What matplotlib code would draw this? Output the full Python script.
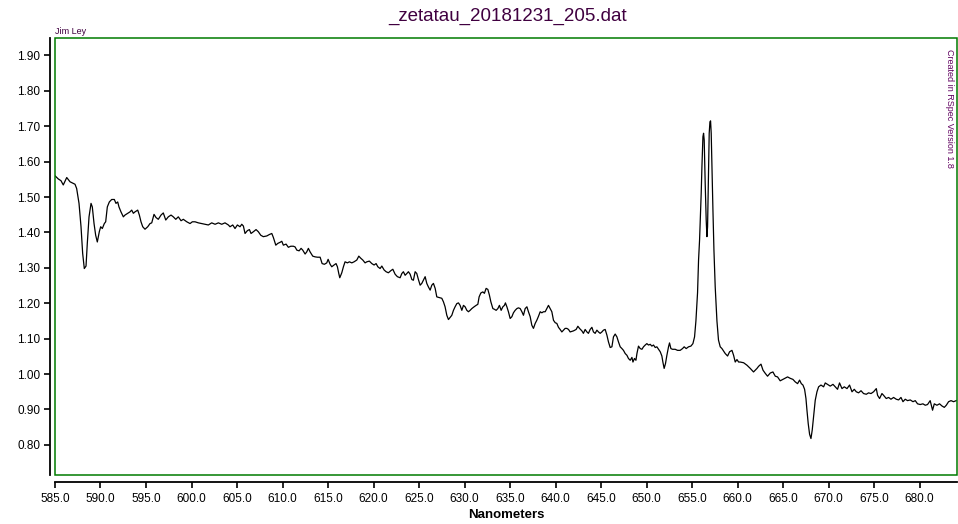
import numpy as np
import matplotlib
matplotlib.use("Agg")
import matplotlib.pyplot as plt
from matplotlib.patches import Rectangle
from matplotlib.ticker import FormatStrFormatter

plt.rcParams["font.family"] = ["Liberation Sans", "DejaVu Sans"]

# spectrum (nm, relative intensity)
wavelength = [
    585.00, 585.36, 585.66, 585.91, 586.29, 586.65, 587.20, 587.38, 587.64, 587.86,
    588.04, 588.22, 588.41, 588.55, 588.74, 588.96, 589.10, 589.29, 589.47, 589.65,
    589.87, 590.02, 590.20, 590.42, 590.57, 590.75, 590.97, 591.23, 591.52, 591.70,
    591.89, 592.03, 592.25, 592.51, 592.69, 592.99, 593.24, 593.43, 593.61, 593.79,
    594.09, 594.27, 594.45, 594.64, 594.89, 595.19, 595.44, 595.63, 595.88, 596.10,
    596.35, 596.65, 596.90, 597.17, 597.45, 597.75, 598.00, 598.27, 598.55, 598.85,
    599.10, 599.48, 599.84, 600.09, 600.39, 600.75, 601.12, 601.49, 601.85, 602.22,
    602.59, 602.95, 603.32, 603.68, 604.05, 604.23, 604.53, 604.78, 605.04, 605.33,
    605.52, 605.70, 605.88, 606.14, 606.36, 606.54, 606.80, 607.09, 607.34, 607.61,
    607.89, 608.27, 608.55, 608.82, 608.99, 609.26, 609.48, 609.73, 609.92, 610.09,
    610.39, 610.64, 610.91, 611.19, 611.38, 611.57, 611.82, 612.04, 612.22, 612.48,
    612.66, 612.84, 613.03, 613.32, 613.58, 613.83, 614.13, 614.35, 614.60, 614.86,
    615.01, 615.23, 615.41, 615.66, 615.88, 616.03, 616.18, 616.29, 616.51, 616.69,
    616.87, 617.13, 617.35, 617.61, 617.86, 618.16, 618.38, 618.60, 618.82, 619.07,
    619.26, 619.54, 619.81, 620.06, 620.28, 620.47, 620.72, 620.91, 621.16, 621.38,
    621.63, 621.90, 622.12, 622.37, 622.62, 622.92, 623.11, 623.28, 623.47, 623.66,
    623.83, 624.02, 624.21, 624.38, 624.57, 624.75, 624.93, 625.12, 625.30, 625.48,
    625.67, 625.85, 626.03, 626.22, 626.40, 626.58, 626.77, 626.95, 627.24, 627.50,
    627.68, 627.86, 628.05, 628.23, 628.41, 628.60, 628.78, 628.96, 629.15, 629.33,
    629.51, 629.70, 629.88, 630.06, 630.25, 630.43, 630.61, 630.80, 631.05, 631.27,
    631.46, 631.60, 631.79, 632.01, 632.18, 632.37, 632.56, 632.73, 632.89, 633.11,
    633.28, 633.47, 633.66, 633.83, 634.02, 634.21, 634.38, 634.49, 634.65, 634.82,
    635.01, 635.20, 635.37, 635.56, 635.75, 635.92, 636.11, 636.30, 636.47, 636.66,
    636.85, 637.02, 637.21, 637.39, 637.57, 637.76, 637.94, 638.12, 638.31, 638.49,
    638.67, 638.86, 639.04, 639.22, 639.41, 639.59, 639.77, 639.96, 640.14, 640.32,
    640.50, 640.69, 640.87, 641.05, 641.24, 641.42, 641.60, 641.97, 642.26, 642.45,
    642.63, 642.89, 643.06, 643.25, 643.44, 643.61, 643.80, 643.99, 644.16, 644.35,
    644.54, 644.71, 644.90, 645.09, 645.26, 645.45, 645.64, 645.81, 646.00, 646.19,
    646.36, 646.55, 646.74, 646.91, 647.10, 647.29, 647.46, 647.65, 647.84, 648.01,
    648.20, 648.39, 648.50, 648.67, 648.83, 648.94, 649.11, 649.30, 649.49, 649.66,
    649.85, 650.03, 650.21, 650.40, 650.58, 650.76, 650.95, 651.13, 651.31, 651.50,
    651.68, 651.79, 651.93, 652.08, 652.23, 652.41, 652.52, 652.67, 652.85, 653.14,
    653.40, 653.69, 653.95, 654.13, 654.35, 654.61, 654.87, 655.09, 655.27, 655.42,
    655.60, 655.71, 655.82, 655.93, 656.00, 656.08, 656.19, 656.26, 656.33, 656.44,
    656.55, 656.63, 656.70, 656.81, 656.88, 656.96, 657.03, 657.10, 657.18, 657.29,
    657.40, 657.54, 657.73, 657.90, 658.09, 658.28, 658.64, 658.90, 659.12, 659.38,
    659.56, 659.74, 659.93, 660.11, 660.29, 660.66, 661.03, 661.39, 661.75, 662.13,
    662.31, 662.57, 662.79, 663.04, 663.29, 663.59, 663.88, 664.14, 664.39, 664.68,
    664.98, 665.23, 665.49, 665.78, 666.08, 666.33, 666.59, 666.81, 667.00, 667.18,
    667.36, 667.51, 667.62, 667.76, 667.91, 668.06, 668.20, 668.35, 668.53, 668.72,
    668.90, 669.16, 669.45, 669.63, 669.88, 670.18, 670.48, 670.73, 670.98, 671.20,
    671.47, 671.72, 672.02, 672.30, 672.57, 672.82, 673.04, 673.29, 673.56, 673.84,
    674.14, 674.39, 674.66, 674.94, 675.24, 675.38, 675.60, 675.86, 676.04, 676.33,
    676.59, 676.85, 677.14, 677.43, 677.69, 677.95, 678.17, 678.42, 678.67, 678.97,
    679.27, 679.52, 679.77, 680.07, 680.36, 680.62, 680.87, 681.16, 681.42, 681.61,
    681.90, 682.19, 682.45, 682.71, 682.93, 683.18, 683.45, 683.73, 684.02,
]
intensity = [
    1.560, 1.551, 1.546, 1.534, 1.555, 1.543, 1.536, 1.524, 1.482, 1.416,
    1.341, 1.298, 1.305, 1.369, 1.444, 1.482, 1.472, 1.425, 1.392, 1.373,
    1.402, 1.416, 1.411, 1.425, 1.430, 1.472, 1.486, 1.493, 1.493, 1.482,
    1.486, 1.472, 1.458, 1.444, 1.449, 1.454, 1.458, 1.463, 1.454, 1.458,
    1.463, 1.449, 1.430, 1.416, 1.409, 1.416, 1.425, 1.427, 1.451, 1.442,
    1.437, 1.449, 1.455, 1.435, 1.444, 1.449, 1.444, 1.437, 1.444, 1.433,
    1.437, 1.430, 1.425, 1.430, 1.430, 1.427, 1.425, 1.423, 1.421, 1.427,
    1.423, 1.427, 1.423, 1.427, 1.421, 1.416, 1.421, 1.411, 1.421, 1.416,
    1.423, 1.418, 1.397, 1.405, 1.408, 1.397, 1.402, 1.408, 1.402, 1.392,
    1.388, 1.390, 1.394, 1.397, 1.386, 1.364, 1.369, 1.372, 1.375, 1.364,
    1.367, 1.358, 1.361, 1.361, 1.359, 1.350, 1.348, 1.355, 1.350, 1.339,
    1.345, 1.355, 1.345, 1.333, 1.331, 1.330, 1.330, 1.312, 1.310, 1.314,
    1.324, 1.310, 1.303, 1.308, 1.312, 1.303, 1.284, 1.272, 1.286, 1.303,
    1.317, 1.314, 1.317, 1.314, 1.317, 1.322, 1.333, 1.327, 1.322, 1.314,
    1.317, 1.319, 1.312, 1.308, 1.312, 1.303, 1.298, 1.305, 1.294, 1.289,
    1.286, 1.292, 1.296, 1.282, 1.275, 1.272, 1.284, 1.289, 1.279, 1.284,
    1.289, 1.282, 1.267, 1.265, 1.289, 1.284, 1.267, 1.251, 1.256, 1.265,
    1.275, 1.256, 1.246, 1.237, 1.251, 1.256, 1.242, 1.218, 1.216, 1.214,
    1.204, 1.190, 1.166, 1.154, 1.160, 1.166, 1.180, 1.190, 1.199, 1.201,
    1.194, 1.180, 1.194, 1.190, 1.180, 1.176, 1.180, 1.185, 1.190, 1.194,
    1.197, 1.218, 1.229, 1.232, 1.228, 1.242, 1.239, 1.223, 1.204, 1.185,
    1.183, 1.180, 1.185, 1.194, 1.180, 1.190, 1.194, 1.201, 1.190, 1.176,
    1.157, 1.162, 1.173, 1.180, 1.185, 1.187, 1.185, 1.176, 1.166, 1.185,
    1.190, 1.176, 1.162, 1.138, 1.129, 1.143, 1.152, 1.163, 1.176, 1.173,
    1.176, 1.176, 1.185, 1.194, 1.185, 1.176, 1.152, 1.145, 1.143, 1.132,
    1.126, 1.119, 1.124, 1.129, 1.129, 1.126, 1.119, 1.122, 1.126, 1.135,
    1.129, 1.122, 1.115, 1.126, 1.119, 1.115, 1.126, 1.132, 1.119, 1.115,
    1.124, 1.119, 1.115, 1.119, 1.124, 1.126, 1.110, 1.091, 1.075, 1.077,
    1.105, 1.113, 1.105, 1.091, 1.077, 1.072, 1.067, 1.058, 1.053, 1.044,
    1.039, 1.047, 1.034, 1.044, 1.039, 1.058, 1.079, 1.072, 1.070, 1.077,
    1.082, 1.086, 1.082, 1.084, 1.079, 1.082, 1.075, 1.077, 1.070, 1.063,
    1.051, 1.034, 1.016, 1.030, 1.053, 1.077, 1.088, 1.072, 1.070, 1.070,
    1.067, 1.067, 1.072, 1.077, 1.072, 1.077, 1.079, 1.086, 1.105, 1.150,
    1.230, 1.322, 1.378, 1.454, 1.510, 1.585, 1.670, 1.680, 1.661, 1.538,
    1.435, 1.388, 1.416, 1.585, 1.680, 1.712, 1.715, 1.680, 1.585, 1.463,
    1.350, 1.246, 1.150, 1.096, 1.077, 1.072, 1.058, 1.051, 1.063, 1.067,
    1.053, 1.034, 1.041, 1.034, 1.034, 1.032, 1.025, 1.016, 1.006, 1.016,
    1.022, 1.028, 1.011, 1.002, 0.994, 1.003, 1.006, 0.994, 0.992, 0.981,
    0.985, 0.988, 0.992, 0.988, 0.985, 0.978, 0.973, 0.983, 0.973, 0.969,
    0.957, 0.931, 0.898, 0.860, 0.830, 0.818, 0.842, 0.879, 0.926, 0.950,
    0.964, 0.969, 0.964, 0.975, 0.971, 0.966, 0.971, 0.964, 0.957, 0.975,
    0.959, 0.964, 0.959, 0.969, 0.950, 0.957, 0.950, 0.947, 0.953, 0.945,
    0.943, 0.947, 0.945, 0.950, 0.959, 0.940, 0.931, 0.945, 0.940, 0.931,
    0.934, 0.929, 0.934, 0.929, 0.927, 0.934, 0.922, 0.929, 0.925, 0.927,
    0.922, 0.925, 0.916, 0.914, 0.916, 0.912, 0.914, 0.925, 0.898, 0.916,
    0.912, 0.916, 0.910, 0.906, 0.912, 0.922, 0.925, 0.922, 0.925,
]

x_ticks = np.arange(585, 681, 5)
y_ticks = np.arange(0.80, 1.91, 0.10)

title_color = "#400040"

fig = plt.figure(figsize=(9.58, 5.24), dpi=100)
ax = fig.add_axes([0.0574, 0.0935, 0.9415, 0.834])

ax.plot(wavelength, intensity, color="black", linewidth=0.9)

ax.set_xlim(585.0, 684.1)
ax.set_ylim(0.715, 1.949)
ax.set_xticks(x_ticks)
ax.set_yticks(y_ticks)
ax.xaxis.set_major_formatter(FormatStrFormatter("%.1f"))
ax.yaxis.set_major_formatter(FormatStrFormatter("%.2f"))
ax.tick_params(axis="both", labelsize=8.5, colors="black", width=1.2, length=4.5)
ax.tick_params(axis="y", pad=2.5)

# axis lines sit just outside the green plot frame
for side in ["top", "right"]:
    ax.spines[side].set_visible(False)
ax.spines["left"].set_position(("outward", 3.6))
ax.spines["bottom"].set_position(("outward", 4.7))
for side in ["left", "bottom"]:
    ax.spines[side].set_linewidth(1.3)
    ax.spines[side].set_color("black")

ax.add_patch(Rectangle((0, 0), 1, 1, transform=ax.transAxes, fill=False,
                       edgecolor="#007a00", linewidth=1.1, clip_on=False, zorder=5))

ax.set_xlabel("Nanometers", fontsize=9.5, fontweight="bold", labelpad=3)
fig.text(0.530, 0.968, "_zetatau_20181231_205.dat", ha="center", va="center",
         fontsize=13.5, color=title_color)
fig.text(0.0574, 0.932, "Jim Ley", ha="left", va="bottom", fontsize=6.5, color=title_color)
ax.text(0.992, 0.975, "Created in RSpec Version 1.8", transform=ax.transAxes,
        rotation=-90, ha="center", va="top", fontsize=6.5, color="#600060")

plt.savefig("out.png", dpi=100)
